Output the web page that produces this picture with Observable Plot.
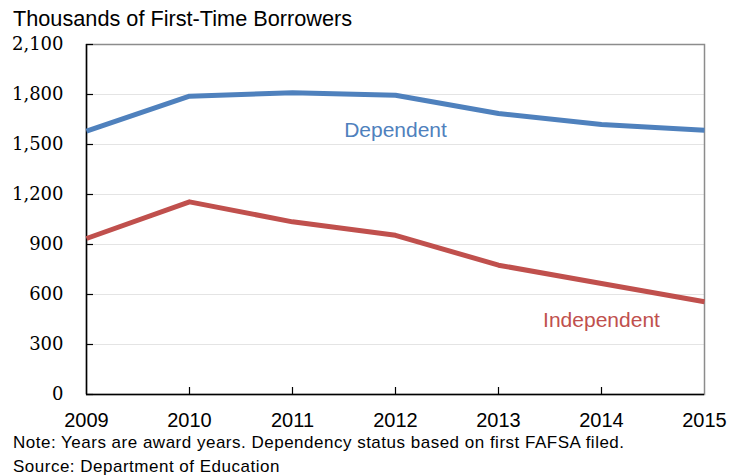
<!DOCTYPE html>
<html>
<head>
<meta charset="utf-8">
<script src="https://cdn.jsdelivr.net/npm/d3@7"></script>
<script src="https://cdn.jsdelivr.net/npm/@observablehq/plot@0.6"></script>
<style>
  html, body { margin: 0; padding: 0; background: #fff; }
  #wrap { position: relative; width: 730px; height: 476px; overflow: hidden; font-family: "Liberation Sans", Arial, sans-serif; color: #000; }
  #subtitle { position: absolute; left: 13px; top: 8px; font-size: 21.7px; line-height: 21.7px; white-space: nowrap; }
  #chart { position: absolute; left: 0; top: 30px; }
  .note { position: absolute; left: 13px; font-size: 17px; line-height: 17px; letter-spacing: 0.5px; white-space: nowrap; }
  #chart g[aria-label="y-axis tick label"], #chart g[aria-label="y-axis tick label"] text { font-family: "DejaVu Serif", serif !important; font-size: 18px !important; }
</style>
</head>
<body>
<div id="wrap">
  <div id="subtitle">Thousands of First-Time Borrowers</div>
  <div id="chart"></div>
  <div class="note" style="top:434px">Note: Years are award years. Dependency status based on first FAFSA filed.</div>
  <div class="note" style="top:458px">Source: Department of Education</div>
</div>
<script>
const years = [2009, 2010, 2011, 2012, 2013, 2014, 2015];
const dependent = [1580, 1790, 1810, 1795, 1686, 1620, 1586];
const independent = [936, 1156, 1036, 955, 776, 666, 556];
const yTicks = [0, 300, 600, 900, 1200, 1500, 1800, 2100];
const seriesNames = ["Dependent", "Independent"];
const seriesColors = ["#4F81BD", "#C0504D"];
const labelX = [2012, 2014];
const labelY = [1586, 446];

const rows = [];
years.forEach((yr, i) => {
  rows.push({year: yr, value: dependent[i], series: seriesNames[0]});
  rows.push({year: yr, value: independent[i], series: seriesNames[1]});
});
const labels = seriesNames.map((s, i) => ({series: s, x: labelX[i], y: labelY[i]}));

const chart = Plot.plot({
  width: 730,
  height: 400,
  marginLeft: 86,
  marginRight: 26,
  marginTop: 14,
  marginBottom: 36,
  style: {fontFamily: "'Liberation Sans', Arial, sans-serif", background: "#fff", color: "#000"},
  x: {type: "linear", domain: [years[0], years[years.length - 1]]},
  y: {domain: [yTicks[0], yTicks[yTicks.length - 1]]},
  color: {domain: seriesNames, range: seriesColors},
  marks: [
    Plot.ruleY(yTicks.slice(1, -1), {stroke: "#e4e4e4", strokeWidth: 1}),
    Plot.frame({stroke: "#8c8c8c", strokeWidth: 1.5}),
    Plot.axisY({ticks: yTicks, tickSize: -7, tickFormat: () => "", stroke: "#000", strokeWidth: 1.2}),
    Plot.axisY({ticks: yTicks, tickSize: 0, tickPadding: 23, tickFormat: d3.format(","), fontSize: 18, fontFamily: "DejaVu Serif", fill: "#000", label: null}),
    Plot.axisX({ticks: years.slice(1, -1), tickSize: -7, tickFormat: () => "", stroke: "#000", strokeWidth: 1.2}),
    Plot.axisX({ticks: years, tickSize: 0, tickPadding: 18, tickFormat: d => String(d), fontSize: 20, fill: "#000", label: null}),
    Plot.ruleX([years[0]], {stroke: "#000", strokeWidth: 1.5}),
    Plot.ruleY([yTicks[0]], {stroke: "#000", strokeWidth: 1.5}),
    Plot.line(rows, {x: "year", y: "value", z: "series", stroke: "series", strokeWidth: 5, strokeLinejoin: "round", strokeLinecap: "butt"}),
    Plot.text(labels, {x: "x", y: "y", text: "series", fill: "series", fontSize: 21})
  ]
});
document.getElementById("chart").appendChild(chart);
</script>
</body>
</html>
